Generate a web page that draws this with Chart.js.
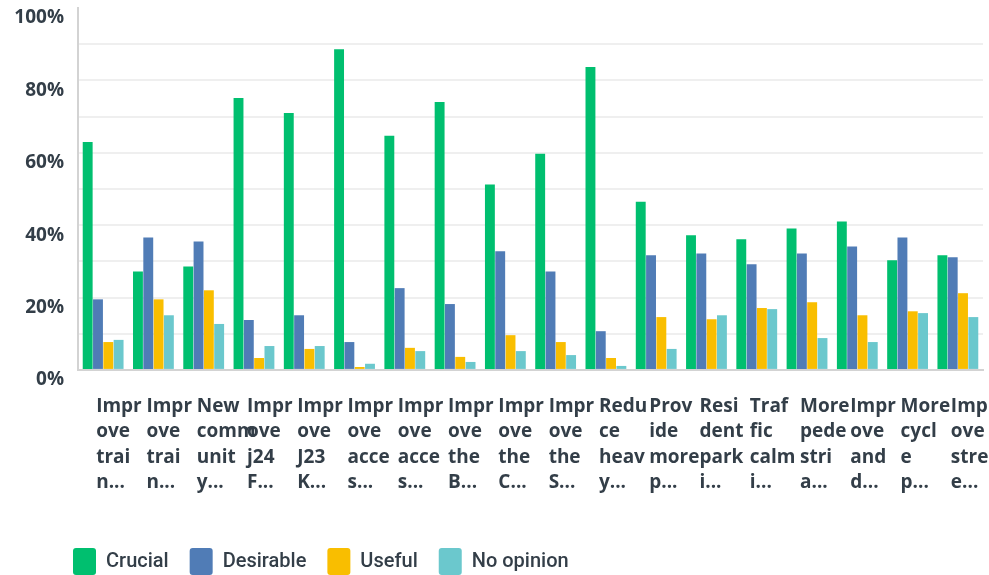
<!DOCTYPE html>
<html>
<head>
<meta charset="utf-8">
<script src="https://cdn.jsdelivr.net/npm/chart.js@4/dist/chart.umd.min.js"></script>
<style>
  html, body { margin: 0; padding: 0; background: #fff; }
  #wrap { width: 989px; height: 575px; position: relative; }
</style>
</head>
<body>
<div id="wrap"><canvas id="myChart"></canvas></div>
<script>
"use strict";
// answer choices (shown truncated, as in the survey export)
var categories = [
  ["Impr", "ove", "trai", "n..."],
  ["Impr", "ove", "trai", "n..."],
  ["New", "comm", "unit", "y..."],
  ["Impr", "ove", "j24", "F..."],
  ["Impr", "ove", "J23", "K..."],
  ["Impr", "ove", "acce", "s..."],
  ["Impr", "ove", "acce", "s..."],
  ["Impr", "ove", "the", "B..."],
  ["Impr", "ove", "the", "C..."],
  ["Impr", "ove", "the", "S..."],
  ["Redu", "ce", "heav", "y..."],
  ["Prov", "ide", "more", "p..."],
  ["Resi", "dent", "park", "i..."],
  ["Traf", "fic", "calm", "i..."],
  ["More", "pede", "stri", "a..."],
  ["Impr", "ove", "and", "d..."],
  ["More", "cycl", "e", "p..."],
  ["Impr", "ove", "stre", "e..."]
];

var crucial    = [63.0, 27.2, 28.6, 75.1, 71.0, 88.6, 64.7, 74.0, 51.2, 59.7, 83.7, 46.5, 37.2, 36.1, 39.1, 41.0, 30.3, 31.7];
var desirable  = [19.5, 36.6, 35.5, 13.8, 15.1, 7.7, 22.6, 18.2, 32.8, 27.2, 10.7, 31.7, 32.2, 29.2, 32.2, 34.1, 36.6, 31.1];
var useful     = [7.7, 19.5, 22.0, 3.3, 5.8, 0.8, 6.1, 3.6, 9.6, 7.7, 3.3, 14.6, 14.0, 17.1, 18.7, 15.1, 16.2, 21.2];
var noOpinion  = [8.3, 15.1, 12.7, 6.6, 6.6, 1.7, 5.2, 2.2, 5.2, 4.1, 1.1, 5.8, 15.1, 16.8, 8.8, 7.7, 15.7, 14.6];

var yTicks = [0, 20, 40, 60, 80, 100];

var textColor = "#333e48";
var labelFont = "'Open Sans', Roboto, sans-serif";
var legendFont = "Roboto, 'Open Sans', sans-serif";

function makeSet(label, values, color) {
  return {
    label: label,
    data: values,
    backgroundColor: color,
    borderColor: color,
    barPercentage: 0.96,
    categoryPercentage: 0.82
  };
}

// push the legend over so it lines up under the plot
var legendNudge = {
  id: "legendNudge",
  afterLayout: function(chart) {
    var lg = chart.legend;
    if (!lg) return;
    lg.left += 52;
    lg.right += 52;
    lg.top += 10;
    lg.bottom += 10;
  }
};

var ctx = document.getElementById("myChart").getContext("2d");
var chart = new Chart(ctx, {
  type: "bar",
  data: {
    labels: categories,
    datasets: [
      makeSet("Crucial", crucial, "#00bf6f"),
      makeSet("Desirable", desirable, "#507cb6"),
      makeSet("Useful", useful, "#f9be00"),
      makeSet("No opinion", noOpinion, "#6bc8cd")
    ]
  },
  plugins: [legendNudge],
  options: {
    responsive: true,
    maintainAspectRatio: false,
    animation: false,
    layout: { padding: { left: 0, right: 6, top: 8, bottom: 0 } },
    plugins: {
      tooltip: { enabled: false },
      legend: {
        position: "bottom",
        align: "start",
        labels: {
          boxWidth: 23,
          boxHeight: 27,
          padding: 21,
          useBorderRadius: true,
          borderRadius: 3,
          color: textColor,
          font: { family: legendFont, size: 20, weight: "500" }
        }
      }
    },
    scales: {
      x: {
        afterFit: function(scale) {
          scale.paddingLeft = 0;
          scale.paddingRight = 0;
          scale.height -= 2;
        },
        grid: { display: false, drawTicks: false },
        border: { color: "#d3d3d3", width: 2 },
        ticks: {
          autoSkip: false,
          maxRotation: 0,
          minRotation: 0,
          align: "start",
          labelOffset: -7,
          padding: 24,
          color: textColor,
          font: { family: labelFont, size: 19, weight: "bold", lineHeight: 1.33 }
        }
      },
      y: {
        min: 0,
        max: 100,
        afterFit: function(scale) { scale.width = 78; scale.paddingTop = 0; scale.paddingBottom = 0; },
        grid: {
          drawTicks: false,
          lineWidth: 2,
          color: function(c) { return c.tick && c.tick.value === 100 ? "rgba(0,0,0,0)" : "#efefef"; }
        },
        border: { color: "#d3d3d3", width: 2 },
        ticks: {
          stepSize: 10,
          padding: 14,
          labelOffset: 10,
          color: textColor,
          font: { family: labelFont, size: 19, weight: "bold" },
          callback: function(v) { return yTicks.indexOf(v) >= 0 ? v + "%" : ""; }
        }
      }
    }
  }
});
</script>
</body>
</html>
